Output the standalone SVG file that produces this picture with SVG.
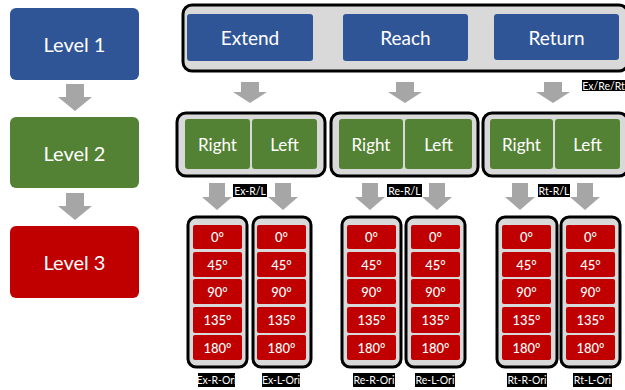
<svg xmlns="http://www.w3.org/2000/svg" width="625" height="390" viewBox="0 0 625 390">
<style>
.bg{fill:#ffffff}
.blue{fill:#2F5597}
.green{fill:#548235}
.red{fill:#C00000}
.cont{fill:#D9D9D9;stroke:#000;stroke-width:3}
.arr{fill:#A6A6A6}
.t{font-family:Lato,"Open Sans","Liberation Sans",sans-serif;fill:#fff;text-anchor:middle;dominant-baseline:central}
.lv{font-size:20px}
.l1{font-size:19px}
.l2{font-size:17px}
.l3{font-size:13px;font-weight:500}
.lbg{fill:#000}
.lb{font-family:Lato,"Open Sans","Liberation Sans",sans-serif;font-size:10.5px;fill:#fff;text-anchor:middle;dominant-baseline:central}
</style>
<defs>
<path id="aL" d="M-9,0 H9 V13 H17 L0,27 L-17,13 H-9 Z"/>
<path id="aT" d="M-9,0 H9 V10 H17 L0,21 L-17,10 H-9 Z"/>
<path id="a2" d="M-8,0 H8 V14 H15 L0,27 L-15,14 H-8 Z"/>
<g id="cells">
<rect class="red" x="0" y="0" width="49" height="24" rx="2"/>
<rect class="red" x="0" y="27" width="49" height="25" rx="2"/>
<rect class="red" x="0" y="54" width="49" height="25" rx="2"/>
<rect class="red" x="0" y="82" width="49" height="26" rx="2"/>
<rect class="red" x="0" y="110" width="49" height="25" rx="2"/>
<text class="t l3" x="24.5" y="12">0°</text>
<text class="t l3" x="24.5" y="39.5">45°</text>
<text class="t l3" x="24.5" y="66.5">90°</text>
<text class="t l3" x="24.5" y="95">135°</text>
<text class="t l3" x="24.5" y="122.5">180°</text>
</g>
</defs>
<rect class="bg" width="625" height="390"/>

<g id="level1"><rect class="blue" x="10" y="8" width="129" height="72" rx="6"/><text class="t lv" x="74.5" y="44">Level 1</text></g>
<g id="level2"><rect class="green" x="10" y="117" width="129" height="71" rx="6"/><text class="t lv" x="74.5" y="152.5">Level 2</text></g>
<g id="level3"><rect class="red" x="10" y="226" width="129" height="72" rx="6"/><text class="t lv" x="74.5" y="262">Level 3</text></g>

<g id="top">
<rect class="cont" x="183" y="5" width="445" height="66" rx="9"/>
<g id="extend"><rect class="blue" x="187" y="14" width="126" height="47" rx="3"/><text class="t l1" x="250" y="37.5">Extend</text></g>
<g id="reach"><rect class="blue" x="343" y="14" width="125" height="47" rx="3"/><text class="t l1" x="405.5" y="37.5">Reach</text></g>
<g id="return"><rect class="blue" x="494" y="14" width="125" height="46" rx="3"/><text class="t l1" x="556.5" y="37">Return</text></g>
</g>

<g id="ex-rl">
<rect class="cont" x="177" y="113" width="148" height="63" rx="9"/>
<rect class="green" x="185" y="119" width="65" height="50" rx="3"/><text class="t l2" x="217.5" y="144">Right</text>
<rect class="green" x="252" y="119" width="65" height="50" rx="3"/><text class="t l2" x="284.5" y="144">Left</text>
</g>
<g id="re-rl">
<rect class="cont" x="331" y="113" width="147" height="63" rx="9"/>
<rect class="green" x="339" y="119" width="64" height="50" rx="3"/><text class="t l2" x="371" y="144">Right</text>
<rect class="green" x="405" y="119" width="67" height="50" rx="3"/><text class="t l2" x="438.5" y="144">Left</text>
</g>
<g id="rt-rl">
<rect class="cont" x="483" y="113" width="145" height="63" rx="9"/>
<rect class="green" x="490" y="119" width="63" height="50" rx="3"/><text class="t l2" x="521.5" y="144">Right</text>
<rect class="green" x="555" y="119" width="65" height="50" rx="3"/><text class="t l2" x="587.5" y="144">Left</text>
</g>

<g id="ex-r-ori"><rect class="cont" x="188" y="217" width="59" height="150" rx="8"/><use href="#cells" x="193" y="225"/></g>
<g id="ex-l-ori"><rect class="cont" x="253" y="217" width="58" height="150" rx="8"/><use href="#cells" x="257" y="225"/></g>
<g id="re-r-ori"><rect class="cont" x="342" y="217" width="59" height="150" rx="8"/><use href="#cells" x="347" y="225"/></g>
<g id="re-l-ori"><rect class="cont" x="406" y="217" width="59" height="150" rx="8"/><use href="#cells" x="411" y="225"/></g>
<g id="rt-r-ori"><rect class="cont" x="497" y="217" width="60" height="150" rx="8"/><use href="#cells" x="502" y="225"/></g>
<g id="rt-l-ori"><rect class="cont" x="561" y="217" width="59" height="150" rx="8"/><use href="#cells" x="566" y="225"/></g>

<g id="connectors">
<use class="arr" href="#aL" x="75" y="84"/>
<use class="arr" href="#aL" x="75" y="193"/>
<use class="arr" href="#aT" x="250" y="82"/>
<use class="arr" href="#aT" x="405" y="82"/>
<use class="arr" href="#aT" x="553" y="82"/>
<use class="arr" href="#a2" x="217" y="183"/>
<use class="arr" href="#a2" x="283" y="183"/>
<use class="arr" href="#a2" x="370" y="183"/>
<use class="arr" href="#a2" x="437" y="183"/>
<use class="arr" href="#a2" x="520" y="183"/>
<use class="arr" href="#a2" x="585" y="183"/>
</g>

<g id="labels">
<rect class="lbg" x="582" y="80" width="43" height="11"/><text class="lb" x="603.5" y="85.5">Ex/Re/Rt</text>
<rect class="lbg" x="233" y="184" width="34" height="13"/><text class="lb" x="250" y="190.5">Ex-R/L</text>
<rect class="lbg" x="387" y="184" width="35" height="13"/><text class="lb" x="404.5" y="190.5">Re-R/L</text>
<rect class="lbg" x="538" y="184" width="32" height="13"/><text class="lb" x="554" y="190.5">Rt-R/L</text>
<rect class="lbg" x="198" y="373" width="37" height="14"/><text class="lb" x="216.5" y="380">Ex-R-Ori</text>
<rect class="lbg" x="262" y="373" width="38" height="14"/><text class="lb" x="281" y="380">Ex-L-Ori</text>
<rect class="lbg" x="353" y="373" width="42" height="14"/><text class="lb" x="374" y="380">Re-R-Ori</text>
<rect class="lbg" x="415" y="373" width="40" height="14"/><text class="lb" x="435" y="380">Re-L-Ori</text>
<rect class="lbg" x="507" y="373" width="40" height="14"/><text class="lb" x="527" y="380">Rt-R-Ori</text>
<rect class="lbg" x="573" y="373" width="39" height="14"/><text class="lb" x="592.5" y="380">Rt-L-Ori</text>
</g>
</svg>
